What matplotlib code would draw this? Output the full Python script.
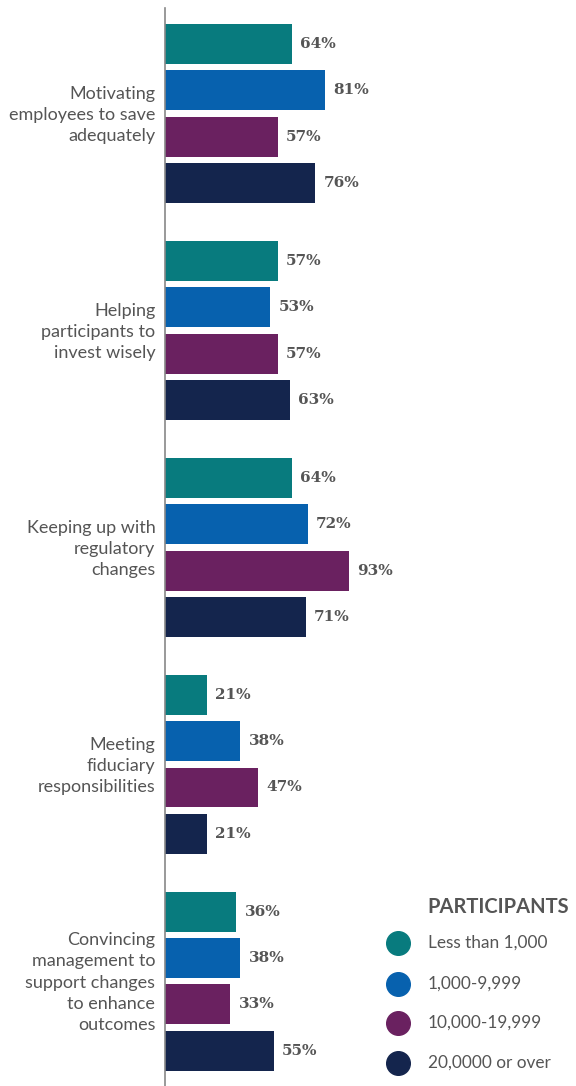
import matplotlib
matplotlib.use("Agg")
import matplotlib.pyplot as plt
import numpy as np

# === Data ===
categories = [
    "Motivating\nemployees to save\nadequately",
    "Helping\nparticipants to\ninvest wisely",
    "Keeping up with\nregulatory\nchanges",
    "Meeting\nfiduciary\nresponsibilities",
    "Convincing\nmanagement to\nsupport changes\nto enhance\noutcomes",
]
series_names = ["Less than 1,000", "1,000-9,999", "10,000-19,999", "20,0000 or over"]
less_1000 = [64, 57, 64, 21, 36]
from_1000 = [81, 53, 72, 38, 38]
from_10000 = [57, 57, 93, 47, 33]
over_20000 = [76, 63, 71, 21, 55]
series_values = [less_1000, from_1000, from_10000, over_20000]
colors = ["#087B7E", "#0761AE", "#6A2160", "#14254D"]

# === Layout ===
W, H, DPI = 576, 1086, 100
GROUP_STEP = 4.68
BAR_H = 0.86
TEXT_GREY = "#555555"

fig = plt.figure(figsize=(W / DPI, H / DPI), dpi=DPI)
ax_left = 165 / W
ax = fig.add_axes([ax_left, 0, 1 - ax_left, (H - 8) / H])

for i, (vals, col) in enumerate(zip(series_values, colors)):
    ypos = np.arange(len(categories)) * GROUP_STEP + i
    ax.barh(ypos, vals, height=BAR_H, color=col, zorder=2)
    for y, v in zip(ypos, vals):
        ax.annotate(f"{v}%", (v, y), xytext=(6, 0), textcoords="offset points",
                    ha="left", va="center", fontsize=11, fontweight="bold",
                    family="DejaVu Serif", color=TEXT_GREY)

ax.set_xlim(0, (W - 165) / 1.98)
ax.set_ylim(22.48, -0.777)

# category labels to the left of the axis line
for g, cat in enumerate(categories):
    yc = g * GROUP_STEP + 1.5
    ax.annotate(cat, (0, yc), xytext=(-7, -1), textcoords="offset points",
                ha="right", va="center", fontsize=13, family="Lato",
                color=TEXT_GREY, linespacing=1.4)

for side in ["top", "right", "bottom"]:
    ax.spines[side].set_visible(False)
ax.spines["left"].set_color("#888888")
ax.spines["left"].set_linewidth(1.2)
ax.set_xticks([])
ax.set_yticks([])

# === Legend ===
fig.text(427 / W, 1 - 907 / H, "PARTICIPANTS", ha="left", va="center",
         fontsize=14.5, fontweight="bold", family="Lato", color=TEXT_GREY)
legend_y = [943, 984, 1023, 1063]
for name, col, ly in zip(series_names, colors, legend_y):
    fig.lines.append(plt.Line2D([398 / W], [1 - ly / H], marker="o", markersize=17,
                                color=col, transform=fig.transFigure))
    fig.text(428 / W, 1 - ly / H, name, ha="left", va="center",
             fontsize=12.4, family="Lato", color=TEXT_GREY)

fig.savefig("out.png", dpi=DPI)
plt.close(fig)
